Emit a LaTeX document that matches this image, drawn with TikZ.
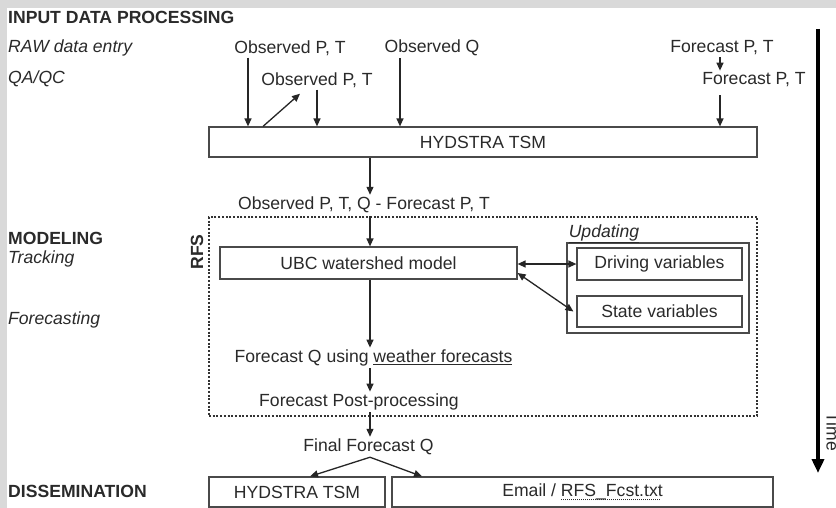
\documentclass[tikz,border=0pt]{standalone}
\usepackage{fontspec}
\setmainfont{Liberation Sans}
\usetikzlibrary{arrows.meta}
\definecolor{frame}{HTML}{D9D9D9}
\definecolor{ink}{HTML}{2A2A2A}
\definecolor{edge}{HTML}{4A4A4A}
% dotted underline for a file name
\newcommand{\dotund}[1]{\setbox0=\hbox{#1}\rlap{\lower3pt\hbox to \wd0{\leaders\hbox to 2pt{\hss\vrule width 1pt height 0.5pt depth 0.5pt\hss}\hfil}}\box0}
\newcommand{\txtsize}{\fontsize{17.6}{21}\selectfont}
\begin{document}
\begin{tikzpicture}[x=1pt,y=-1pt,
  every node/.style={text=ink,font=\txtsize,inner sep=2pt},
  head/.style={anchor=west,font=\txtsize\bfseries},
  sub/.style={anchor=west,font=\txtsize\itshape},
  box/.style={draw=edge,line width=1.2pt,rectangle,inner sep=0pt},
  arr/.style={draw=black!85,line width=1.3pt,-{Triangle[length=8pt,width=7pt]}},
  darr/.style={draw=black!85,line width=1.3pt,{Triangle[length=8pt,width=7pt]}-{Triangle[length=8pt,width=7pt]}},
  rfsline/.style={draw=black!80,line width=2.1pt,dash pattern=on 2pt off 1.7pt}
]
\useasboundingbox (0,0) rectangle (836,508);
\fill[white] (0,0) rectangle (836,508);
\fill[frame] (0,0) rectangle (836,8);
\fill[frame] (0,0) rectangle (7,508);

% section labels on the left
\node[head] (tin) at (6,17) {INPUT DATA PROCESSING};
\node[sub] (traw) at (6,48) {RAW data entry};
\node[sub] (tqa) at (6,79) {QA/QC};
\node[head] (tmod) at (6,238) {MODELING};
\node[sub] (ttrack) at (6,259) {Tracking};
\node[sub] (tfc) at (6,320) {Forecasting};
\node[head] (tdis) at (6,491) {DISSEMINATION};

% raw inputs and checked inputs
\node (obs1) at (290,48) {Observed P, T};
\node (obsq) at (432,48) {Observed Q};
\node (fc1) at (722,48) {Forecast P, T};
\node (obs2) at (317,80) {Observed P, T};
\node (fc2) at (754,80) {Forecast P, T};

% time-series store
\node[box,minimum width=548pt,minimum height=30pt] (hyd) at (483,142) {HYDSTRA TSM};

\coordinate (xa) at (248,0);
\coordinate (xb) at (263,0);
\coordinate (xc) at (300,0);
\coordinate (xd) at (317,0);
\coordinate (xe) at (400,0);
\coordinate (xf) at (720,0);
\coordinate (xm) at (370,0);

\draw[arr] (obs1.south -| xa) -- (hyd.north -| xa);
\draw[arr] (hyd.north -| xb) -- ([yshift=-4pt]obs2.south -| xc);
\draw[arr] (obs2.south -| xd) -- (hyd.north -| xd);
\draw[arr] (obsq.south -| xe) -- (hyd.north -| xe);
\draw[arr] (fc1.south -| xf) -- (fc2.north -| xf);
\draw[arr] ([yshift=-6pt]fc2.south -| xf) -- (hyd.north -| xf);

\node (obsall) at (364,205) {Observed P, T, Q - Forecast P, T};
\draw[arr] (hyd.south -| xm) -- (obsall.north -| xm);

% forecasting system frame
\node[rfsline,rectangle,minimum width=548pt,minimum height=199pt,inner sep=0pt] (rfs) at (483,316.5) {};
\node[rotate=90,font=\txtsize\bfseries] (trfs) at (197,252) {RFS};

\node[box,minimum width=297pt,minimum height=32pt] (ubc) at (368.5,263) {UBC watershed model};
\draw[arr] (rfs.north -| xm) -- (ubc.north -| xm);

% updating block
\node[box,minimum width=182pt,minimum height=90pt] (upd) at (658,288) {};
\node[font=\txtsize\itshape,inner sep=0pt] (tupd) at (604,234) {\underline{Updating}};
\node[box,minimum width=165pt,minimum height=32pt] (drv) at (659.5,264) {Driving variables};
\node[box,minimum width=165pt,minimum height=31pt] (st) at (659.5,311.5) {State variables};
\draw[darr] (ubc.east |- drv.west) -- (drv.west);
\draw[darr] ([yshift=-10pt]ubc.east) -- ([xshift=-3pt]st.west);

% forecast chain
\node (fq) at (373.5,358) {Forecast Q using \underline{weather forecasts}};
\node (fpp) at (359,402) {Forecast Post-processing};
\node (ffq) at (368.5,447) {Final Forecast Q};
\draw[arr] (ubc.south -| xm) -- (fq.north -| xm);
\draw[arr] (fq.south -| xm) -- (fpp.north -| xm);
\draw[arr] (fpp.south -| xm) -- (ffq.north -| xm);

% outputs
\node[box,minimum width=176pt,minimum height=30pt] (hyd2) at (297,492) {HYDSTRA TSM};
\node[box,minimum width=381pt,minimum height=30pt] (email) at (582.5,492) {Email / \dotund{RFS\_Fcst.txt}};
\coordinate (fork) at (ffq.south -| xm);
\coordinate (xl) at (310,0);
\coordinate (xr) at (422,0);
\draw[arr] (fork) -- (hyd2.north -| xl);
\draw[arr] (fork) -- (email.north -| xr);

% time axis
\coordinate (ttop) at (818,29);
\coordinate (tbot) at (818,473);
\draw[line width=4pt,-{Triangle[length=14pt,width=12pt]}] (ttop) -- (tbot);
\node[rotate=-90] (ttime) at (833,432) {Time};
\end{tikzpicture}
\end{document}
